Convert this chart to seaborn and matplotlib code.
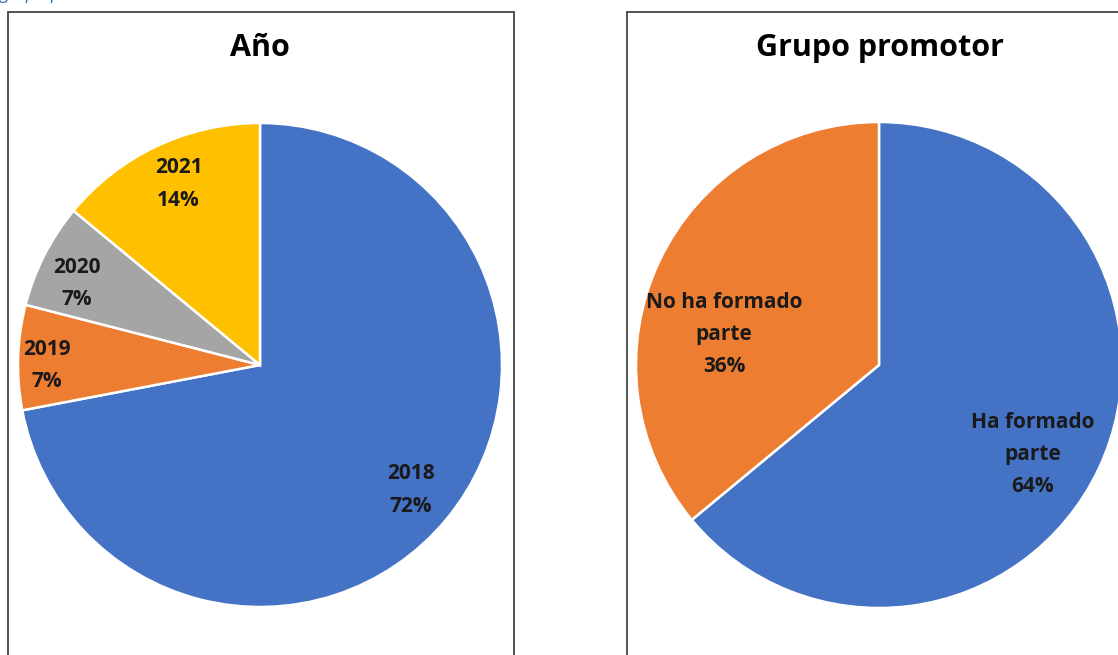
import numpy as np
import matplotlib.pyplot as plt
import seaborn as sns
from matplotlib.patches import Rectangle

# Data
anio_labels = ["2018", "2019", "2020", "2021"]
anio_values = [72, 7, 7, 14]
grupo_labels = ["Ha formado\nparte", "No ha formado\nparte"]
grupo_values = [64, 36]

blue, orange, gray, yellow = "#4472C4", "#ED7D31", "#A5A5A5", "#FFC000"
anio_colors = [blue, orange, gray, yellow]
grupo_colors = [blue, orange]

sns.set_theme(style="white")
plt.rcParams["font.family"] = ["Open Sans", "DejaVu Sans"]

W, H = 1118, 655
fig = plt.figure(figsize=(W / 100, H / 100), dpi=100)


def px_axes(cx, cy, r):
    return fig.add_axes([(cx - r) / W, (H - cy - r) / H, 2 * r / W, 2 * r / H])


def draw_pie(ax, values, labels, colors, label_r, angle_shift):
    wedges, _ = ax.pie(values, colors=colors, startangle=90, counterclock=False,
                       wedgeprops=dict(edgecolor="white", linewidth=1.8))
    for w, lab, v, rr, da in zip(wedges, labels, values, label_r, angle_shift):
        ang = np.deg2rad((w.theta1 + w.theta2) / 2 + da)
        ax.text(rr * np.cos(ang), rr * np.sin(ang), f"{lab}\n{v}%",
                ha="center", va="center", fontsize=15, fontweight="bold",
                color="#1a1a1a", linespacing=1.7)
    ax.set_xlim(-1, 1)
    ax.set_ylim(-1, 1)
    ax.axis("off")


# panel frames
fig.patches.append(Rectangle((8 / W, -0.05), 506 / W, (H - 12) / H + 0.05,
                             transform=fig.transFigure, fill=False,
                             edgecolor="#444444", linewidth=1.3))
fig.patches.append(Rectangle((627 / W, -0.05), 0.5, (H - 12) / H + 0.05,
                             transform=fig.transFigure, fill=False,
                             edgecolor="#444444", linewidth=1.3))

ax1 = px_axes(260, 365, 242)
draw_pie(ax1, anio_values, anio_labels, anio_colors,
         [0.81, 0.88, 0.83, 0.82], [0, 2, 3, -1])
ax2 = px_axes(879, 365, 243)
draw_pie(ax2, grupo_values, grupo_labels, grupo_colors,
         [0.73, 0.65], [-5, 14])

fig.text(260 / W, 1 - 48 / H, "Año", ha="center", va="center",
         fontsize=22, fontweight="bold", color="black")
fig.text(880 / W, 1 - 48 / H, "Grupo promotor", ha="center", va="center",
         fontsize=22, fontweight="bold", color="black")

# caption above the crop, only its descenders remain visible
fig.text(0.0, 1 + 1 / H, "grupo promotor", ha="left", va="baseline",
         fontsize=13, style="italic", color="#2E75B6")

plt.savefig("out.png", dpi=100)
